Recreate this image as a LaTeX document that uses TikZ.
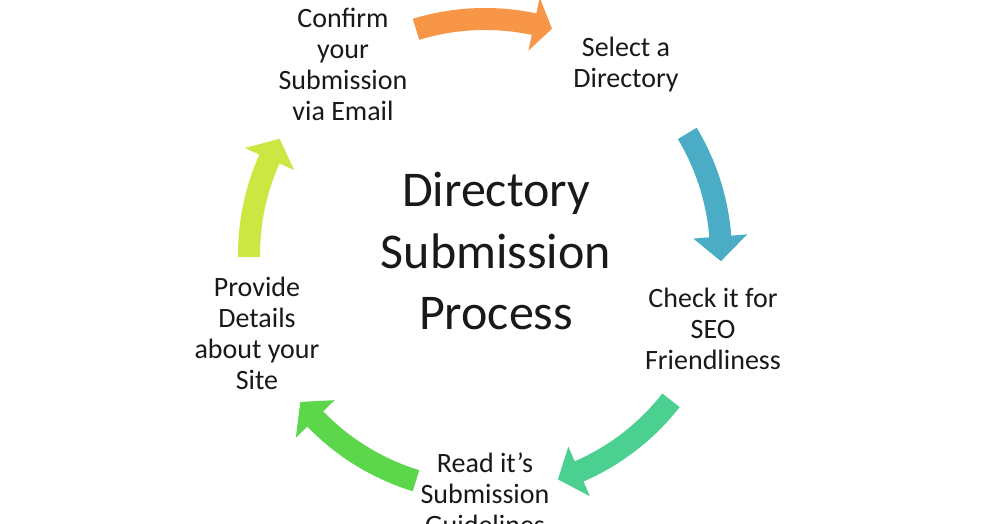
\documentclass[tikz,border=0pt]{standalone}
\usepackage{fontspec}
\setmainfont{Carlito}
\definecolor{arOrange}{RGB}{247,150,70}
\definecolor{arBlue}{RGB}{75,172,198}
\definecolor{arTeal}{RGB}{75,208,145}
\definecolor{arGreen}{RGB}{92,214,75}
\definecolor{arLime}{RGB}{205,231,66}
\definecolor{txt}{RGB}{25,25,25}
\newcommand{\rOut}{247pt}
\newcommand{\rIn}{225pt}
\newcommand{\rMid}{236pt}
\newcommand{\hOut}{263pt}
\newcommand{\hIn}{209pt}
\newcommand{\cycArrow}[4]{%
  \fill[#1] (#2:\rOut) arc[start angle=#2, end angle=#3, radius=\rOut]
    -- (#3:\hOut) -- (#4:\rMid) -- (#3:\hIn) -- (#3:\rIn)
    arc[start angle=#3, end angle=#2, radius=\rIn] -- cycle;}
\tikzset{
  lbl/.style={anchor=base, inner sep=0pt, text=txt, font=\fontsize{28}{31}\selectfont},
  title/.style={anchor=base, inner sep=0pt, text=txt, font=\fontsize{50}{61.5}\selectfont}
}
\begin{document}
\begin{tikzpicture}[x=1pt,y=1pt]
\useasboundingbox (0,0) rectangle (1000,524);
\fill[white] (0,0) rectangle (1000,524);
\begin{scope}[shift={(485,269)}]
  \cycArrow{arOrange}{107}{78}{73.5}
  \cycArrow{arBlue}{31}{4.5}{-1.5}
  \cycArrow{arTeal}{-38}{-66.5}{-72}
  \cycArrow{arGreen}{-107}{-136}{-141.5}
  \cycArrow{arLime}{180.5}{156}{150.5}
\end{scope}
\node[lbl] (confirm) at (343,496) {\begin{tabular}[t]{@{}c@{}}Confirm\\ your\\ Submission\\ via Email\end{tabular}};
\node[lbl] (select) at (626,467) {\begin{tabular}[t]{@{}c@{}}Select a\\ Directory\end{tabular}};
\node[title] (center) at (496,317) {\begin{tabular}[t]{@{}c@{}}Directory\\ Submission\\ Process\end{tabular}};
\node[lbl] (check) at (713,216) {\begin{tabular}[t]{@{}c@{}}Check it for\\ SEO\\ Friendliness\end{tabular}};
\node[lbl] (provide) at (257,227) {\begin{tabular}[t]{@{}c@{}}Provide\\ Details\\ about your\\ Site\end{tabular}};
\node[lbl] (read) at (485,51) {\begin{tabular}[t]{@{}c@{}}Read it’s\\ Submission\\ Guidelines\end{tabular}};
\end{tikzpicture}
\end{document}
